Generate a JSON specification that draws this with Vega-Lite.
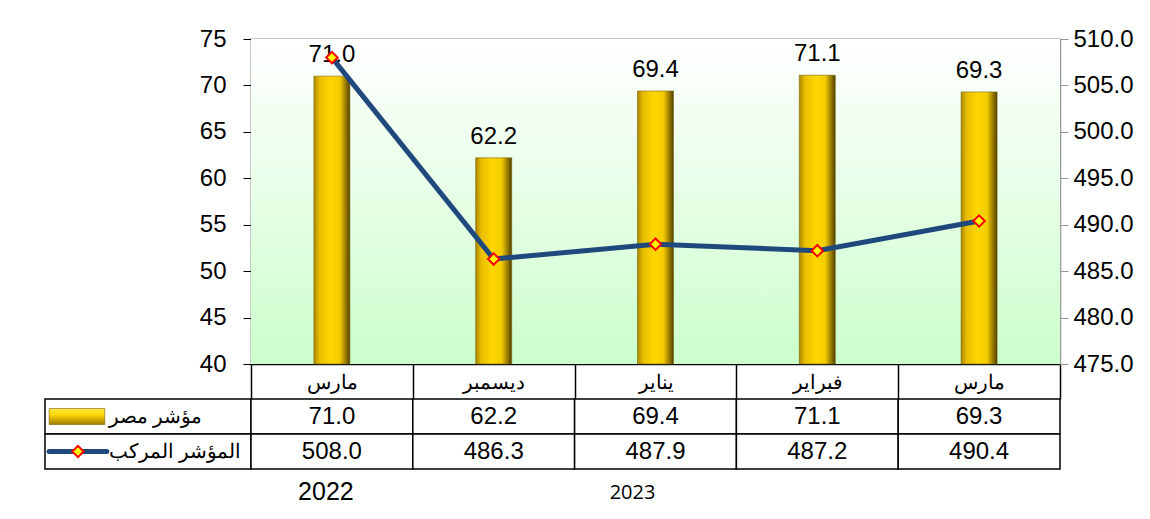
{
  "$schema": "https://vega.github.io/schema/vega-lite/v6.json",
  "background": "white",
  "padding": {"left": 44, "top": 26, "right": 5, "bottom": 5},
  "datasets": {
    "months": [
      {"key": "مارس 2022", "egypt": 71.0, "composite": 508.0},
      {"key": "ديسمبر 2022", "egypt": 62.2, "composite": 486.3},
      {"key": "يناير 2023", "egypt": 69.4, "composite": 487.9},
      {"key": "فبراير 2023", "egypt": 71.1, "composite": 487.2},
      {"key": "مارس 2023", "egypt": 69.3, "composite": 490.4}
    ],
    "series": [
      {"series": "egypt", "name": "مؤشر مصر"},
      {"series": "composite", "name": "المؤشر المركب"}
    ]
  },
  "columns": 2,
  "spacing": {"row": 35, "column": 0},
  "bounds": "flush",
  "concat": [
    {
      "width": 206,
      "height": 325,
      "data": {"values": [{}]},
      "mark": {"type": "text", "text": ""},
      "encoding": {},
      "view": {"stroke": null}
    },
    {
      "width": 809,
      "height": 325,
      "data": {"name": "months"},
      "view": {"stroke": "#c8c8c8", "strokeWidth": 2},
      "resolve": {"scale": {"y": "independent"}},
      "layer": [
        {
          "layer": [
            {
              "data": {"values": [{}]},
              "mark": {
                "type": "rect",
                "color": {
                  "gradient": "linear",
                  "x1": 0, "y1": 0, "x2": 0, "y2": 1,
                  "stops": [
                    {"offset": 0, "color": "#ffffff"},
                    {"offset": 1, "color": "#ccffcc"}
                  ]
                }
              },
              "encoding": {
                "y": {"datum": 75, "type": "quantitative"},
                "y2": {"datum": 40}
              }
            },
            {
              "mark": {
                "type": "bar",
                "width": 36,
                "stroke": "#7a6400",
                "strokeWidth": 0.6,
                "color": {
                  "gradient": "linear",
                  "x1": 0, "y1": 0, "x2": 1, "y2": 0,
                  "stops": [
                    {"offset": 0, "color": "#a88700"},
                    {"offset": 0.15, "color": "#e8bc00"},
                    {"offset": 0.45, "color": "#ffd700"},
                    {"offset": 0.72, "color": "#f5cc00"},
                    {"offset": 0.9, "color": "#8f7200"},
                    {"offset": 1, "color": "#4e3f00"}
                  ]
                }
              },
              "encoding": {
                "x": {
                  "field": "key",
                  "type": "nominal",
                  "sort": null,
                  "scale": {"paddingInner": 0, "paddingOuter": 0},
                  "axis": {
                    "title": null,
                    "labelAngle": 0,
                    "domainColor": "black",
                    "domainWidth": 1.5,
                    "tickColor": "black",
                    "tickWidth": 1.5,
                    "tickBand": "extent",
                    "tickSize": 35,
                    "labelExpr": "split(datum.label, ' ')[0]",
                    "labelFontSize": 20,
                    "labelPadding": -27,
                    "labelColor": "black"
                  }
                },
                "y": {
                  "field": "egypt",
                  "type": "quantitative",
                  "scale": {"domain": [40, 75], "zero": false},
                  "axis": {
                    "title": null,
                    "orient": "left",
                    "values": [40, 45, 50, 55, 60, 65, 70, 75],
                    "labelFontSize": 24,
                    "labelColor": "black",
                    "domainColor": "black",
                    "tickColor": "black",
                    "tickSize": 8,
                    "labelPadding": 17
                  }
                },
                "y2": {"datum": 40}
              }
            },
            {
              "mark": {"type": "text", "fontSize": 24, "baseline": "alphabetic", "dy": -14, "color": "black"},
              "encoding": {
                "x": {"field": "key", "type": "nominal", "sort": null},
                "y": {"field": "egypt", "type": "quantitative"},
                "text": {"field": "egypt", "type": "quantitative", "format": ".1f"}
              }
            }
          ]
        },
        {
          "layer": [
            {
              "mark": {"type": "line", "color": "#1f497d", "strokeWidth": 5},
              "encoding": {
                "x": {"field": "key", "type": "nominal", "sort": null},
                "y": {
                  "field": "composite",
                  "type": "quantitative",
                  "scale": {"domain": [475, 510], "zero": false},
                  "axis": {
                    "title": null,
                    "orient": "right",
                    "values": [475, 480, 485, 490, 495, 500, 505, 510],
                    "format": ".1f",
                    "labelFontSize": 24,
                    "labelColor": "black",
                    "domainColor": "#999999",
                    "domainWidth": 1.5,
                    "tickColor": "#999999",
                    "tickSize": 8,
                    "labelPadding": 5
                  }
                }
              }
            },
            {
              "mark": {"type": "point", "shape": "diamond", "filled": true, "fill": "#ffff00", "stroke": "#ff0000", "strokeWidth": 2, "size": 130, "opacity": 1},
              "encoding": {
                "x": {"field": "key", "type": "nominal", "sort": null},
                "y": {"field": "composite", "type": "quantitative"}
              }
            }
          ]
        }
      ]
    },
    {
      "width": 206,
      "height": 70,
      "data": {"name": "series"},
      "view": {"stroke": null},
      "encoding": {
        "y": {
          "field": "series",
          "type": "nominal",
          "sort": ["egypt", "composite"],
          "scale": {"paddingInner": 0, "paddingOuter": 0},
          "axis": null
        }
      },
      "layer": [
        {
          "mark": {"type": "rect", "fill": "white", "stroke": "black", "strokeWidth": 1.5},
          "encoding": {
            "x": {"datum": 0, "type": "quantitative", "scale": {"domain": [0, 100]}, "axis": null},
            "x2": {"datum": 100}
          }
        },
        {
          "mark": {"type": "text", "align": "left", "fontSize": 20, "color": "black"},
          "encoding": {
            "x": {"datum": 31, "type": "quantitative"},
            "text": {"field": "name"}
          }
        },
        {
          "transform": [{"filter": "datum.series == 'egypt'"}],
          "mark": {
            "type": "bar",
            "size": 16,
            "stroke": "#7a6400",
            "strokeWidth": 0.6,
            "color": {
              "gradient": "linear",
              "x1": 0, "y1": 0, "x2": 0, "y2": 1,
              "stops": [
                {"offset": 0, "color": "#ffe34d"},
                {"offset": 0.4, "color": "#ffd700"},
                {"offset": 1, "color": "#9c7d00"}
              ]
            }
          },
          "encoding": {
            "x": {"datum": 2, "type": "quantitative"},
            "x2": {"datum": 29}
          }
        },
        {
          "transform": [{"filter": "datum.series == 'composite'"}],
          "mark": {"type": "rule", "color": "#1f497d", "strokeWidth": 5, "strokeCap": "round"},
          "encoding": {
            "x": {"datum": 2, "type": "quantitative"},
            "x2": {"datum": 30}
          }
        },
        {
          "transform": [{"filter": "datum.series == 'composite'"}],
          "mark": {"type": "point", "shape": "diamond", "filled": true, "fill": "#ffff00", "stroke": "#ff0000", "strokeWidth": 2, "size": 130, "opacity": 1},
          "encoding": {
            "x": {"datum": 16, "type": "quantitative"}
          }
        }
      ]
    },
    {
      "width": 809,
      "height": 70,
      "data": {"name": "months"},
      "view": {"stroke": null},
      "transform": [{"fold": ["egypt", "composite"], "as": ["series", "value"]}],
      "encoding": {
        "x": {
          "field": "key",
          "type": "nominal",
          "sort": null,
          "scale": {"paddingInner": 0, "paddingOuter": 0},
          "axis": {
            "title": null,
            "orient": "bottom",
            "domain": false,
            "ticks": false,
            "labelAngle": 0,
            "labelColor": "black",
            "labelExpr": "datum.value == 'مارس 2022' ? '2022' : datum.value == 'يناير 2023' ? '2023' : ''",
            "labelFontSize": {"condition": {"test": "datum.value == 'مارس 2022'", "value": 25}, "value": 20},
            "labelFont": {"condition": {"test": "datum.value == 'مارس 2022'", "value": "Liberation Sans"}, "value": "Open Sans"},
            "labelOffset": {"condition": {"test": "datum.value == 'يناير 2023'", "value": -23}, "value": -6},
            "labelPadding": {"condition": {"test": "datum.value == 'مارس 2022'", "value": 10}, "value": 13}
          }
        },
        "y": {
          "field": "series",
          "type": "nominal",
          "sort": ["egypt", "composite"],
          "scale": {"paddingInner": 0, "paddingOuter": 0},
          "axis": null
        }
      },
      "layer": [
        {"mark": {"type": "rect", "fill": "white", "stroke": "black", "strokeWidth": 1.5}},
        {
          "mark": {"type": "text", "fontSize": 24, "color": "black"},
          "encoding": {"text": {"field": "value", "type": "quantitative", "format": ".1f"}}
        }
      ]
    }
  ],
  "config": {
    "font": "Liberation Sans",
    "axis": {"grid": false, "labelFont": "Liberation Sans"},
    "text": {"font": "Liberation Sans"}
  }
}
